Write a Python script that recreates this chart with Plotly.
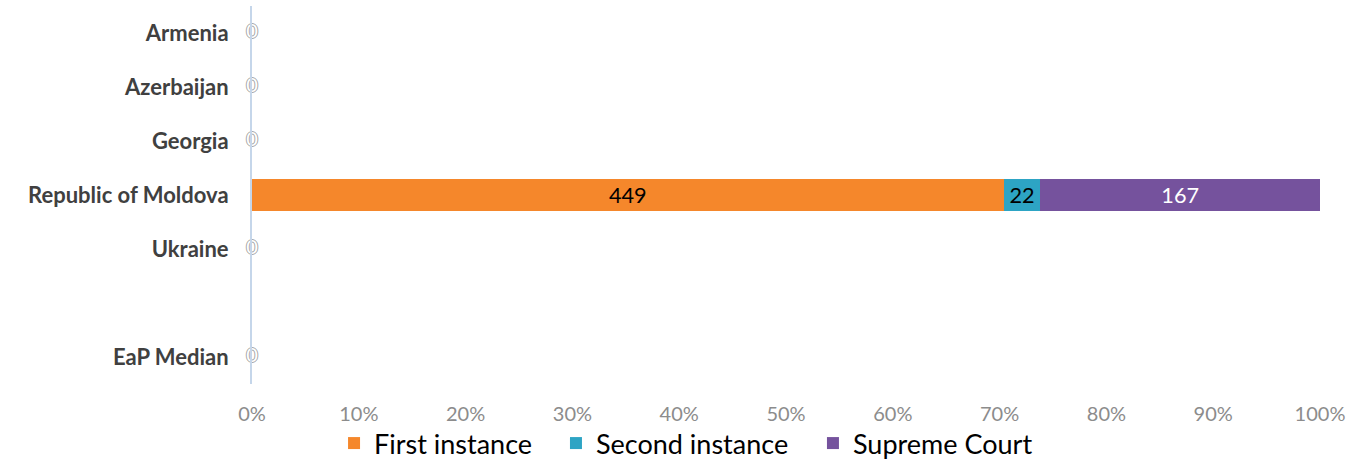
import plotly.graph_objects as go

# Categories (top to bottom); the blank entry keeps a spacer row before the median
countries = ["Armenia", "Azerbaijan", "Georgia", "Republic of Moldova", "Ukraine", " ", "EaP Median"]
first_instance = [0, 0, 0, 449, 0, None, 0]
second_instance = [0, 0, 0, 22, 0, None, 0]
supreme_court = [0, 0, 0, 167, 0, None, 0]
x_ticks = [0, 10, 20, 30, 40, 50, 60, 70, 80, 90, 100]

# name, values, fill, label colour, legend id, legend left (fraction of width)
series = [
    ("First instance", first_instance, "#F5872B", "#000000", "legend", 0.2458),
    ("Second instance", second_instance, "#2DA4C4", "#000000", "legend2", 0.4091),
    ("Supreme Court", supreme_court, "#75529D", "#FFFFFF", "legend3", 0.5982),
]

FONT = "Lato"

fig = go.Figure()
for name, vals, color, txtcol, leg, _ in series:
    fig.add_trace(go.Bar(
        y=countries,
        x=[v if v else 0 for v in vals],
        name=name,
        orientation="h",
        marker=dict(color=color, line=dict(width=0)),
        text=[str(v) if v else "" for v in vals],
        textposition="inside",
        insidetextanchor="middle",
        textangle=0,
        textfont=dict(family=FONT, size=23, color=txtcol),
        width=0.6,
        legend=leg,
        hoverinfo="skip",
    ))

# "0" labels for rows whose totals are zero
zero_rows = [c for c, a, b, s in zip(countries, first_instance, second_instance, supreme_court)
             if a is not None and (a + b + s) == 0]
fig.add_trace(go.Scatter(
    y=zero_rows,
    x=[0] * len(zero_rows),
    mode="text",
    text=["0"] * len(zero_rows),
    textposition="middle center",
    textfont=dict(family=FONT, size=20, color="#FFFFFF",
                  shadow="1px 0 0 #A8A8A8, -1px 0 0 #A8A8A8, 0 1px 0 #A8A8A8, 0 -1px 0 #A8A8A8"),
    showlegend=False,
    hoverinfo="skip",
    cliponaxis=False,
))

legend_style = dict(
    orientation="h",
    xref="container", yref="container",
    xanchor="left",
    y=0.04, yanchor="middle",
    font=dict(family=FONT, size=27, color="#000000"),
    itemwidth=30,
    bgcolor="rgba(0,0,0,0)",
)
legends = {leg: dict(legend_style, x=xpos) for _, _, _, _, leg, xpos in series}

fig.update_layout(
    width=1359,
    height=462,
    barmode="stack",
    barnorm="percent",
    plot_bgcolor="white",
    paper_bgcolor="white",
    margin=dict(l=252, r=39, t=6, b=78, autoexpand=False),
    font=dict(family=FONT),
    **legends,
    xaxis=dict(
        range=[0, 100],
        tickvals=x_ticks,
        ticktext=[f"{t}%" for t in x_ticks],
        tickfont=dict(family=FONT, size=20, color="#8C8C8C"),
        showgrid=False,
        zeroline=False,
        showline=False,
        ticks="",
        ticklabelstandoff=16,
        fixedrange=True,
    ),
    yaxis=dict(
        categoryorder="array",
        categoryarray=countries,
        autorange="reversed",
        tickfont=dict(family=FONT, size=22, color="#404040", weight="bold"),
        showgrid=False,
        zeroline=False,
        showline=True,
        linecolor="#C5D6EA",
        linewidth=2,
        ticks="",
        ticklabelstandoff=17,
        fixedrange=True,
    ),
)

fig.write_html("out.html")
